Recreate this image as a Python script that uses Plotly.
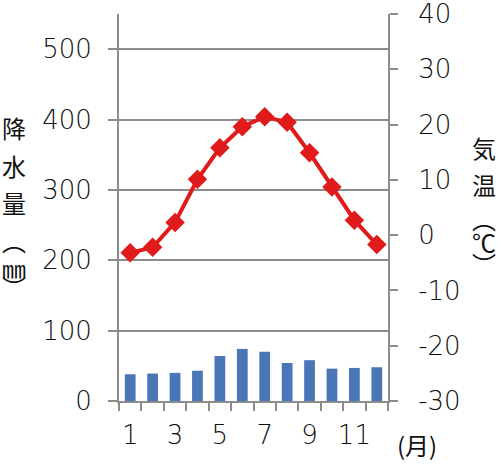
import plotly.graph_objects as go

months = [str(i) for i in range(1, 13)]
month_labels = ["1", "", "3", "", "5", "", "7", "", "9", "", "11", ""]
precip = [38, 39, 40, 43, 64, 74, 70, 54, 58, 46, 47, 48]
temp = [-3.2, -2.2, 2.3, 10.1, 15.8, 19.6, 21.4, 20.4, 14.9, 8.7, 2.7, -1.7]
precip_ticks = [0, 100, 200, 300, 400, 500]
precip_labels = ["0", "100", "200", "300", "400", "500"]
temp_ticks = [-30, -20, -10, 0, 10, 20, 30, 40]
temp_labels = ["-30", "-20", "-10", "0", "10", "20", "30", "40"]
left_title = "降水量︵㎜︶"
right_title = "気温︵℃︶"
month_unit = "(月)"

W, H = 501, 467
L, R, T, B = 119, 113, 14, 66
pw, ph = W - L - R, H - T - B

def px_x(x):
    return (x - L) / pw

def px_y(y):
    return (H - B - y) / ph

axis_col = "#8c8c8c"
txt_col = "#111111"
num_font = dict(family="DejaVu Sans, sans-serif", size=26, color=txt_col, weight=200)
jp_font = dict(family="Noto Sans CJK JP", size=24, color=txt_col)

fig = go.Figure()
fig.add_bar(x=months, y=precip, yaxis="y", marker=dict(color="#4a76b8", line=dict(width=0)),
            width=0.48, showlegend=False, hoverinfo="skip")
fig.add_scatter(x=months, y=temp, yaxis="y2", mode="lines+markers",
                line=dict(color="#e01b1b", width=4),
                marker=dict(symbol="diamond", size=15, color="#e01b1b"),
                showlegend=False, hoverinfo="skip")

fig.update_layout(
    width=W, height=H,
    margin=dict(l=L, r=R, t=T, b=B, pad=0),
    paper_bgcolor="white", plot_bgcolor="white",
    xaxis=dict(type="category", categoryorder="array", categoryarray=months,
               tickmode="array", tickvals=months, ticktext=month_labels, tickangle=0,
               tickson="boundaries", ticks="outside", ticklen=8, tickwidth=2,
               tickcolor=axis_col, showline=True, linecolor=axis_col, linewidth=2,
               showgrid=False, tickfont=num_font, ticklabelstandoff=10,
               ticklabeloverflow="allow", automargin=False, range=[-0.5, 11.5]),
    yaxis=dict(range=[0, 550], tickmode="array", tickvals=precip_ticks, ticktext=precip_labels,
               ticks="outside", ticklen=9, tickwidth=2, tickcolor=axis_col,
               showline=True, linecolor=axis_col, linewidth=2,
               showgrid=True, gridcolor=axis_col, gridwidth=2,
               zeroline=False, tickfont=num_font, ticklabelstandoff=11,
               ticklabeloverflow="allow", automargin=False),
    yaxis2=dict(range=[-30, 40.001], tickmode="array", tickvals=temp_ticks, ticktext=temp_labels,
                overlaying="y", side="right",
                ticks="outside", ticklen=8, tickwidth=2, tickcolor=axis_col,
                showline=True, linecolor=axis_col, linewidth=2,
                showgrid=False, zeroline=False, tickfont=num_font,
                ticklabelstandoff=15, ticklabeloverflow="allow", automargin=False),
)

left_y = [128, 165, 202, 240, 267, 287]
for ch, yy in zip(left_title, left_y):
    fig.add_annotation(text=ch, xref="paper", yref="paper", x=px_x(14), y=px_y(yy),
                       showarrow=False, font=jp_font, xanchor="center", yanchor="middle")

right_y = [147, 184, 218, 242, 263]
for ch, yy in zip(right_title, right_y):
    fig.add_annotation(text=ch, xref="paper", yref="paper", x=px_x(484), y=px_y(yy),
                       showarrow=False, font=jp_font, xanchor="center", yanchor="middle")

fig.add_annotation(text=month_unit, xref="paper", yref="paper",
                   x=px_x(417), y=px_y(445), showarrow=False, font=jp_font,
                   xanchor="center", yanchor="middle")

fig.write_html("out.html", config={"displayModeBar": False},
               post_script="document.body.style.margin='0px';")
